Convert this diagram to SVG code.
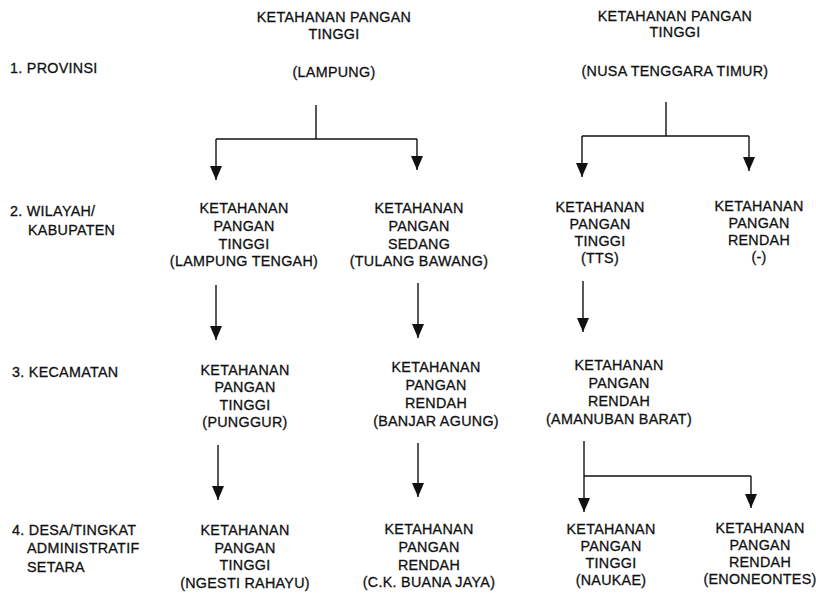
<svg xmlns="http://www.w3.org/2000/svg" width="816" height="593" viewBox="0 0 816 593">
<defs>
<style>
text{font-family:"Liberation Sans",Arial,Helvetica,sans-serif;font-size:14.3px;letter-spacing:0.3px;fill:#111;stroke:#111;stroke-width:0.3px}
.n text{text-anchor:middle}
.c{stroke:#111;stroke-width:1.4;fill:none}
.a{marker-end:url(#ah)}
</style>
<marker id="ah" viewBox="0 -6 14 12" refX="14" refY="0" markerWidth="14" markerHeight="12" markerUnits="userSpaceOnUse" orient="auto">
<path d="M0,-6 L14,0 L0,6 z" fill="#111"/>
</marker>
</defs>
<rect width="816" height="593" fill="#fff"/>

<g id="levels">
<text x="10" y="73">1. PROVINSI</text>
<text x="10" y="216">2. WILAYAH/</text>
<text x="28" y="235">KABUPATEN</text>
<text x="12" y="377">3. KECAMATAN</text>
<text x="12" y="535">4. DESA/TINGKAT</text>
<text x="27" y="553">ADMINISTRATIF</text>
<text x="27" y="572">SETARA</text>
</g>

<g id="lampung" class="n">
<text><tspan x="334" y="22">KETAHANAN PANGAN</tspan><tspan x="334" y="39">TINGGI</tspan><tspan x="334" y="77">(LAMPUNG)</tspan></text>
</g>
<g id="ntt" class="n">
<text><tspan x="675" y="21">KETAHANAN PANGAN</tspan><tspan x="675" y="37">TINGGI</tspan><tspan x="675" y="76">(NUSA TENGGARA TIMUR)</tspan></text>
</g>

<g id="lampung-tengah" class="n">
<text><tspan x="244" y="213">KETAHANAN</tspan><tspan x="244" y="231">PANGAN</tspan><tspan x="244" y="249">TINGGI</tspan><tspan x="244" y="266">(LAMPUNG TENGAH)</tspan></text>
</g>
<g id="tulang-bawang" class="n">
<text><tspan x="419" y="213">KETAHANAN</tspan><tspan x="419" y="231">PANGAN</tspan><tspan x="419" y="249">SEDANG</tspan><tspan x="419" y="266">(TULANG BAWANG)</tspan></text>
</g>
<g id="tts" class="n">
<text><tspan x="600" y="212">KETAHANAN</tspan><tspan x="600" y="229">PANGAN</tspan><tspan x="600" y="246">TINGGI</tspan><tspan x="600" y="263">(TTS)</tspan></text>
</g>
<g id="rendah-kab" class="n">
<text><tspan x="759" y="211">KETAHANAN</tspan><tspan x="759" y="228">PANGAN</tspan><tspan x="759" y="245">RENDAH</tspan><tspan x="759" y="262">(-)</tspan></text>
</g>

<g id="punggur" class="n">
<text><tspan x="245" y="375">KETAHANAN</tspan><tspan x="245" y="392">PANGAN</tspan><tspan x="245" y="410">TINGGI</tspan><tspan x="245" y="427">(PUNGGUR)</tspan></text>
</g>
<g id="banjar-agung" class="n">
<text><tspan x="436" y="372">KETAHANAN</tspan><tspan x="436" y="390">PANGAN</tspan><tspan x="436" y="408">RENDAH</tspan><tspan x="436" y="426">(BANJAR AGUNG)</tspan></text>
</g>
<g id="amanuban-barat" class="n">
<text><tspan x="619" y="370">KETAHANAN</tspan><tspan x="619" y="388">PANGAN</tspan><tspan x="619" y="406">RENDAH</tspan><tspan x="619" y="424">(AMANUBAN BARAT)</tspan></text>
</g>

<g id="ngesti-rahayu" class="n">
<text><tspan x="245" y="535">KETAHANAN</tspan><tspan x="245" y="553">PANGAN</tspan><tspan x="245" y="570">TINGGI</tspan><tspan x="245" y="588">(NGESTI RAHAYU)</tspan></text>
</g>
<g id="ck-buana-jaya" class="n">
<text><tspan x="429" y="534">KETAHANAN</tspan><tspan x="429" y="552">PANGAN</tspan><tspan x="429" y="570">RENDAH</tspan><tspan x="429" y="587">(C.K. BUANA JAYA)</tspan></text>
</g>
<g id="naukae" class="n">
<text><tspan x="611" y="534">KETAHANAN</tspan><tspan x="611" y="551">PANGAN</tspan><tspan x="611" y="568">TINGGI</tspan><tspan x="611" y="585">(NAUKAE)</tspan></text>
</g>
<g id="enoneontes" class="n">
<text><tspan x="760" y="533">KETAHANAN</tspan><tspan x="760" y="550">PANGAN</tspan><tspan x="760" y="567">RENDAH</tspan><tspan x="760" y="584">(ENONEONTES)</tspan></text>
</g>

<g id="connectors">
<path class="c" d="M316,105 V139 M216,139 H417"/>
<path class="c a" d="M216,139 V180"/>
<path class="c a" d="M417,139 V170"/>
<path class="c" d="M666,102 V136 M582,136 H749"/>
<path class="c a" d="M582,136 V177"/>
<path class="c a" d="M749,136 V171"/>
<path class="c a" d="M216,285 V340"/>
<path class="c a" d="M418,283 V338"/>
<path class="c a" d="M583,281 V332"/>
<path class="c a" d="M218,445 V500"/>
<path class="c a" d="M418,443 V497"/>
<path class="c" d="M584,476 H751"/>
<path class="c a" d="M584,441 V512"/>
<path class="c a" d="M751,476 V508"/>
</g>
</svg>
